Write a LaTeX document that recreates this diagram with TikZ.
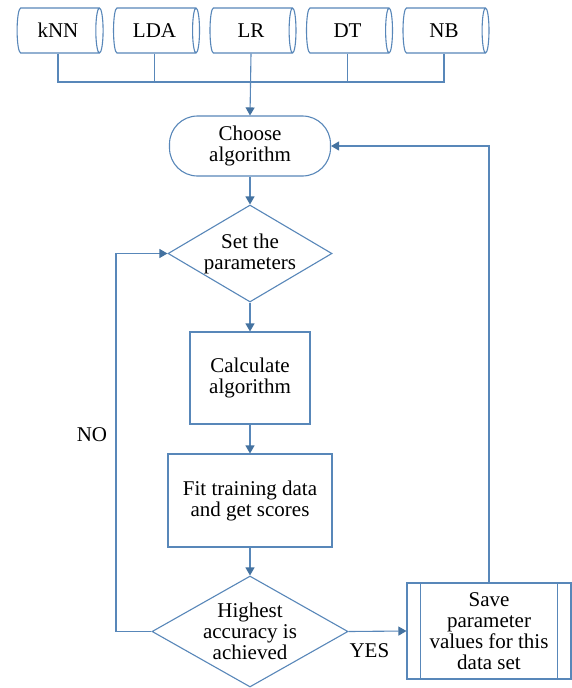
\documentclass[tikz,border=0pt]{standalone}
\usepackage{fontspec}
\setmainfont{Liberation Serif}
\usetikzlibrary{shapes.geometric,shapes.misc,arrows.meta}
\definecolor{lc}{RGB}{88,135,185}
\definecolor{ac}{RGB}{68,114,160}
\tikzset{
  base/.style={draw=lc, line width=1.1pt, font=\fontsize{21}{21}\selectfont, align=center, fill=white},
  cyl/.style={base, cylinder, shape border rotate=0, minimum height=86pt, minimum width=45pt, aspect=0.5, inner sep=0pt},
  term/.style={base, rectangle, rounded corners=28pt, minimum width=161pt, minimum height=60pt, inner sep=0pt},
  proc/.style={base, rectangle, inner sep=0pt},
  deci/.style={base, diamond, inner sep=-3pt},
  ln/.style={draw=lc, line width=1.1pt},
  arr/.style={ln, -{Triangle[length=8pt,width=9pt,color=ac]}},
  lbl/.style={font=\fontsize{21}{21}\selectfont}
}
\begin{document}
\begin{tikzpicture}[x=1pt,y=-1pt]
\fill[white] (0,0) rectangle (571,688);
\useasboundingbox (0,0) rectangle (571,688);
\node[cyl] (c1) at (58,30.5) {kNN};
\node[cyl] (c2) at (154.5,30.5) {LDA};
\node[cyl] (c3) at (251,30.5) {LR};
\node[cyl] (c4) at (347.5,30.5) {DT};
\node[cyl] (c5) at (444,30.5) {NB};
\coordinate (bus) at (250,82);
\node[term] (choose) at (250,146) {Choose\\algorithm};
\node[deci, minimum width=164pt, minimum height=97pt, aspect=1.69] (set) at (250,253.5) {Set the\\parameters};
\node[proc, minimum width=120pt, minimum height=92pt] (calc) at (250,378) {Calculate\\algorithm};
\node[proc, minimum width=164pt, minimum height=93pt] (fit) at (250,500.5) {Fit training data\\and get scores};
\node[deci, minimum width=196pt, minimum height=111pt, aspect=1.77] (high) at (250,631.5) {Highest\\accuracy is\\achieved};
\node[proc, minimum width=164pt, minimum height=96pt] (save) at (489,631) {Save\\parameter\\values for this\\data set};
\draw[ln] ([xshift=14pt]save.north west) -- ([xshift=14pt]save.south west);
\draw[ln] ([xshift=-14pt]save.north east) -- ([xshift=-14pt]save.south east);
\coordinate (noc) at (116,440);
% bus
\draw[ln] (c1.south) -- (c1.south |- bus) -- (c5.south |- bus) -- (c5.south);
\draw[ln] (c2.south) -- (c2.south |- bus);
\draw[ln] (c4.south) -- (c4.south |- bus);
\draw[arr] (c3.south) -- (choose.north);
\draw[arr] (choose.south) -- (set.north);
\draw[arr] (set.south) -- (calc.north);
\draw[arr] (calc.south) -- (fit.north);
\draw[arr] (fit.south) -- (high.north);
\draw[arr] (high.east) -- node[lbl, pos=0.36, below=8pt] {YES} (save.west);
\draw[arr] (high.west) -- (high.west -| noc) -- node[lbl, pos=0.52, left=5pt] {NO} (set.west -| noc) -- (set.west);
\draw[arr] (save.north) -- (save.north |- choose.east) -- (choose.east);
\end{tikzpicture}
\end{document}
